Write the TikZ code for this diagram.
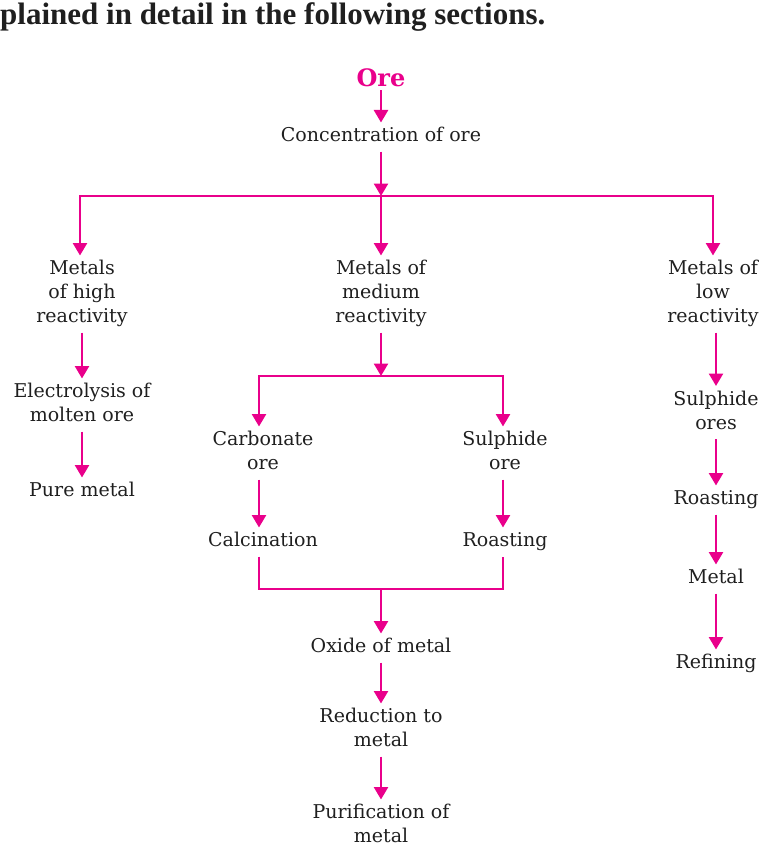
\documentclass[tikz,border=0pt]{standalone}
\usepackage{fontspec}
\setmainfont{DejaVu Serif}
\newfontfamily\headfont{Liberation Serif}
\usetikzlibrary{arrows.meta}
\definecolor{pinkline}{RGB}{233,0,139}
\tikzset{
  txt/.style={font=\fontsize{19}{24}\selectfont, align=center, inner sep=0pt, outer sep=2.5pt, text=black!88, yshift=-2pt},
  pl/.style={draw=pinkline, line width=2.6pt},
  arr/.style={pl, -{Triangle[width=14pt,length=12.5pt]}},
}
\begin{document}
\begin{tikzpicture}[x=1pt,y=-1pt]
\useasboundingbox (0,0) rectangle (761,848);
\node[anchor=base west, inner sep=0pt, font=\headfont\bfseries\fontsize{31}{34}\selectfont, text=black!88] (head) at (0,25) {plained in detail in the following sections.};

\node[font=\bfseries\fontsize{24}{26}\selectfont, text=pinkline, inner sep=0pt, outer sep=3pt] (ore) at (381,78) {Ore};
\node[txt] (conc) at (381,135) {Concentration of ore\strut};
\coordinate (trunk) at (381,196);

\node[txt] (high) at (82,292) {Metals\strut\\of high\strut\\reactivity\strut};
\node[txt] (med) at (381,292) {Metals of\strut\\medium\strut\\reactivity\strut};
\node[txt] (low) at (713,292) {Metals of\strut\\low\strut\\reactivity\strut};

\node[txt] (elec) at (82,403) {Electrolysis of\strut\\molten ore\strut};
\node[txt] (pure) at (82,490) {Pure metal\strut};

\coordinate (mj) at (381,376);
\node[txt] (carb) at (263,451) {Carbonate\strut\\ore\strut};
\node[txt] (sulph) at (505,451) {Sulphide\strut\\ore\strut};
\node[txt] (calc) at (263,540) {Calcination\strut};
\node[txt] (roast) at (505,540) {Roasting\strut};
\coordinate (bj) at (381,589);
\node[txt] (oxide) at (381,646) {Oxide of metal\strut};
\node[txt] (red) at (381,728) {Reduction to\strut\\metal\strut};
\node[txt] (pur) at (381,824) {Purification of\strut\\metal\strut};

\node[txt] (sores) at (716,410.5) {Sulphide\strut\\ores\strut};
\node[txt] (roast2) at (716,498) {Roasting\strut};
\node[txt] (metal) at (716,577) {Metal\strut};
\node[txt] (ref) at (716,662) {Refining\strut};

% connectors
\draw[arr] (ore) -- (conc);
\draw[arr] (conc) -- (trunk);
\draw[arr] (trunk) -| ([xshift=-2pt]high.north);
\draw[arr] (trunk) -- (med);
\draw[arr] (trunk) -| (low);

\draw[arr] (high) -- (elec);
\draw[arr] (elec) -- (pure);

\draw[arr] (med) -- (mj);
\draw[arr] (mj) -| ([xshift=-4pt]carb.north);
\draw[arr] (mj) -| ([xshift=-2pt]sulph.north);
\draw[arr] ([xshift=-4pt]carb.south) -- ([xshift=-4pt]calc.north);
\draw[arr] ([xshift=-2pt]sulph.south) -- ([xshift=-2pt]roast.north);
\draw[pl] ([xshift=-4pt]calc.south) |- (bj) -| ([xshift=-2pt]roast.south);
\draw[arr] (bj) -- (oxide);
\draw[arr] (oxide) -- (red);
\draw[arr] (red) -- (pur);

\draw[arr] (sores.north |- low.south) -- (sores.north);
\draw[arr] (sores) -- (roast2);
\draw[arr] (roast2) -- (metal);
\draw[arr] (metal) -- (ref);
\end{tikzpicture}
\end{document}
